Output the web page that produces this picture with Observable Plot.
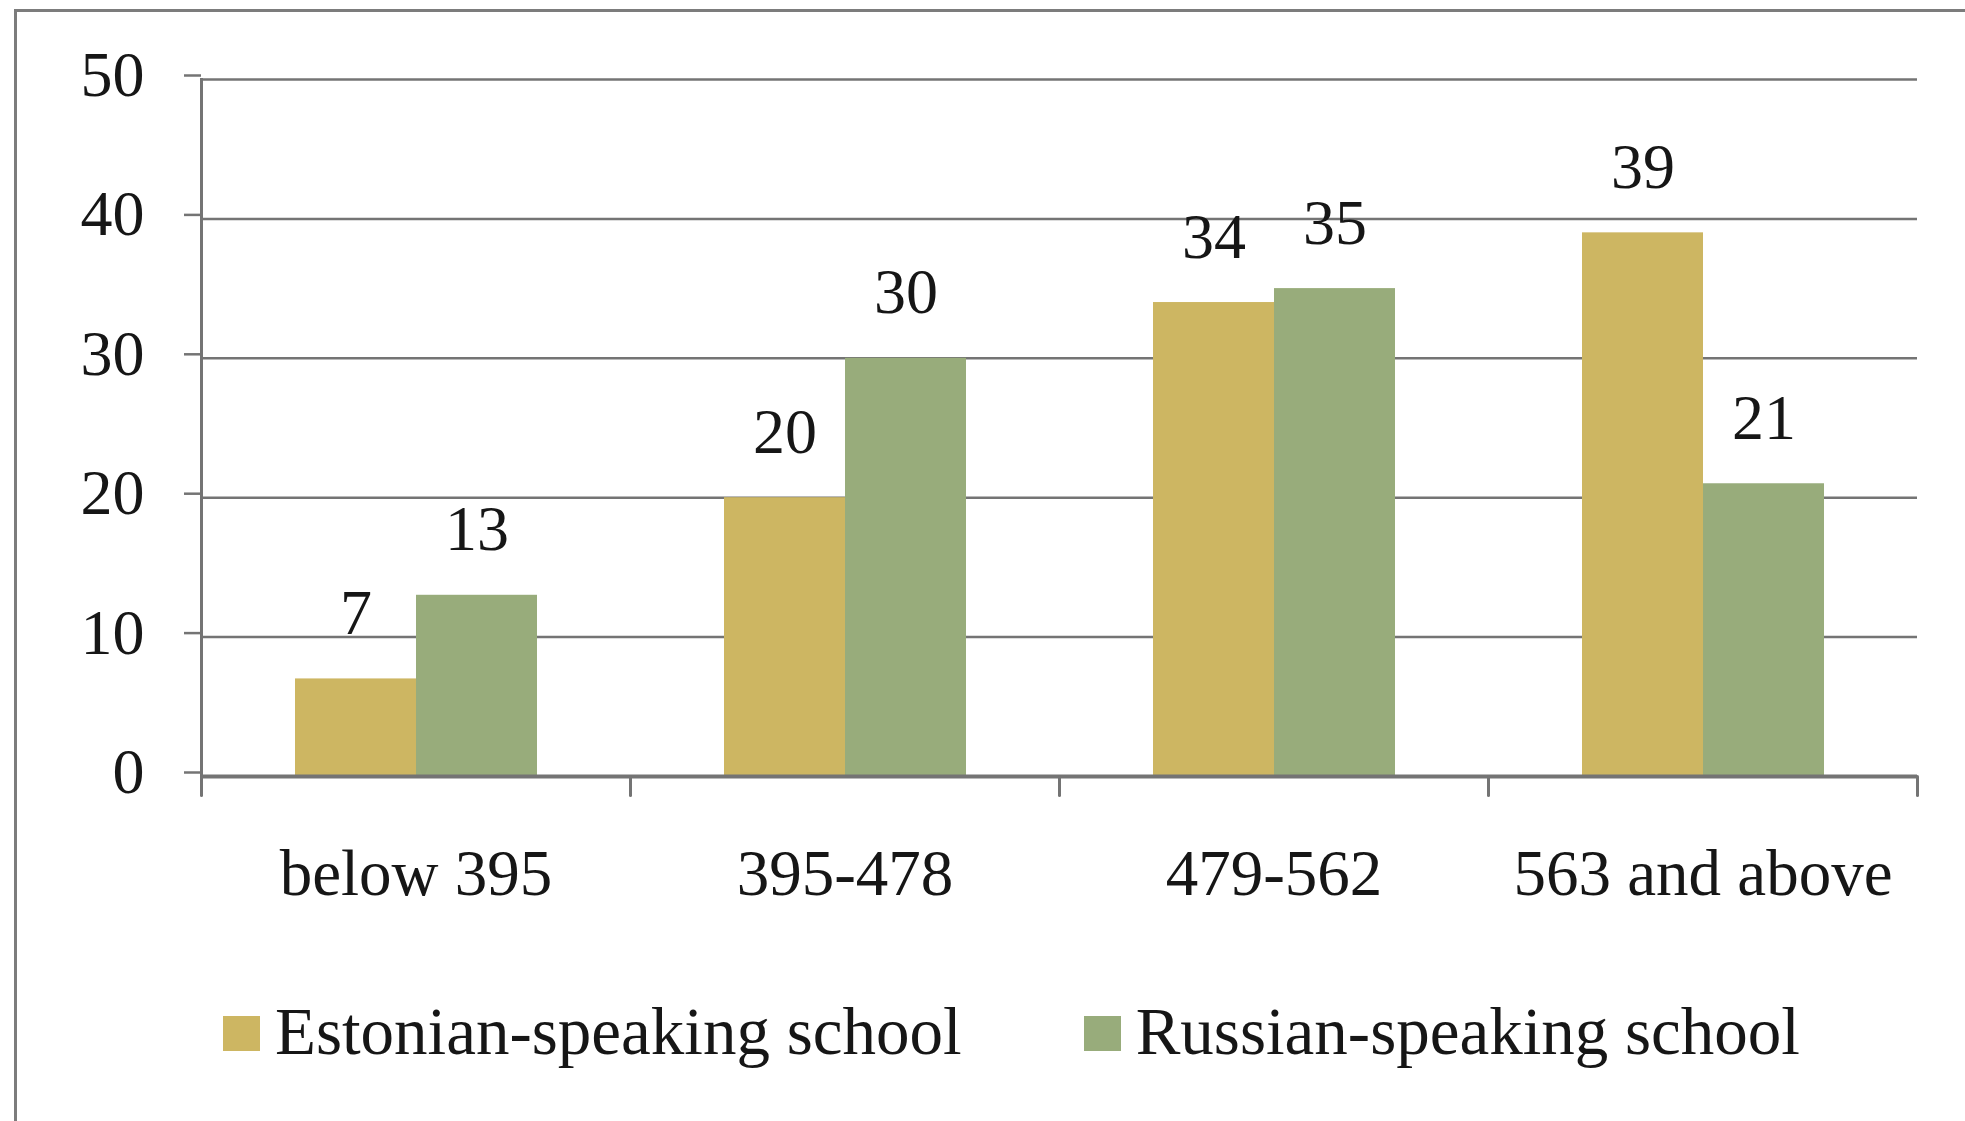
<!DOCTYPE html>
<html>
<head>
<meta charset="utf-8">
<script src="https://cdn.jsdelivr.net/npm/d3@7"></script>
<script src="https://cdn.jsdelivr.net/npm/@observablehq/plot@0.6"></script>
<style>
  html, body { margin: 0; padding: 0; background: #fff; }
  body { position: relative; width: 1965px; height: 1121px; overflow: hidden;
         font-family: "Liberation Serif", "Times New Roman", serif; color: #161616; }
  #border { position: absolute; left: 14px; top: 9px; width: 2100px; height: 1300px;
            border-top: 3px solid #7c7c7c; border-left: 3px solid #7c7c7c; }
  #chart { position: absolute; left: 0; top: 0; }
  #legend { position: absolute; left: 223px; top: 998px; display: flex; gap: 122px;
            font-size: 67px; line-height: 1; white-space: nowrap; }
  #legend .item { display: flex; align-items: flex-end; }
  #legend .sw { width: 37px; height: 35px; margin-right: 15px; margin-bottom: 14px; }
</style>
</head>
<body>
<div id="border"></div>
<div id="chart"></div>
<div id="legend"></div>
<script>
// Score bands and the share of pupils in each, by school language
const categories = ["below 395", "395-478", "479-562", "563 and above"];
const series = ["Estonian-speaking school", "Russian-speaking school"];
const estonian = [7, 20, 34, 39];
const russian = [13, 30, 35, 21];
const yTicks = [0, 10, 20, 30, 40, 50];
const colors = ["#CDB662", "#98AC7B"];

const rows = categories.flatMap((c, i) => [
  {band: c, school: series[0], value: estonian[i]},
  {band: c, school: series[1], value: russian[i]}
]);

const axisGray = "#747474";
const tickShape = {draw(context, l) { context.moveTo(0, 0); context.lineTo(0, -l); }};

const plot = Plot.plot({
  width: 1965,
  height: 960,
  marginLeft: 200,
  marginRight: 48,
  marginTop: 79,
  marginBottom: 184,
  style: {background: "transparent", fontFamily: "Liberation Serif, serif", fontSize: "64px", color: "#161616"},
  fx: {domain: categories, padding: 0, label: null},
  x: {domain: series, paddingInner: 0, paddingOuter: 0.767, axis: null},
  y: {domain: [0, 50], ticks: yTicks, label: null},
  color: {domain: series, range: colors},
  marks: [
    Plot.gridY(yTicks.filter(v => v > 0), {stroke: axisGray, strokeOpacity: 1, strokeWidth: 2.5}),
    Plot.barY(rows, {fx: "band", x: "school", y: "value", fill: "school"}),
    Plot.ruleY([0], {stroke: axisGray, strokeWidth: 4}),
    Plot.frame({anchor: "left", facetAnchor: "left", stroke: axisGray, strokeWidth: 3}),
    Plot.axisY({ticks: yTicks, tickSize: 17, tickPadding: 40, stroke: axisGray, strokeWidth: 2.5,
                strokeOpacity: 1, fontSize: 64, dy: -4, label: null}),
    Plot.axisFx({anchor: "bottom", tickSize: 0, tickPadding: 72, fontSize: 65, label: null}),
    Plot.vector(categories, {fx: d => d, frameAnchor: "bottom-left", rotate: 180, length: 19,
                anchor: "start", shape: tickShape, stroke: axisGray, strokeWidth: 3}),
    Plot.vector(categories.slice(-1), {fx: d => d, frameAnchor: "bottom-right", rotate: 180, length: 19,
                anchor: "start", shape: tickShape, stroke: axisGray, strokeWidth: 3}),
    Plot.text(rows, {fx: "band", x: "school", y: "value", text: d => String(d.value),
                lineAnchor: "bottom", dy: -45, fontSize: 64, fill: "#161616"})
  ]
});
document.getElementById("chart").appendChild(plot);

// Legend below the plot
const legend = d3.select("#legend");
series.forEach((s, i) => {
  const item = legend.append("div").attr("class", "item");
  item.append("span").attr("class", "sw").style("background", colors[i]);
  item.append("span").text(s);
});
</script>
</body>
</html>
